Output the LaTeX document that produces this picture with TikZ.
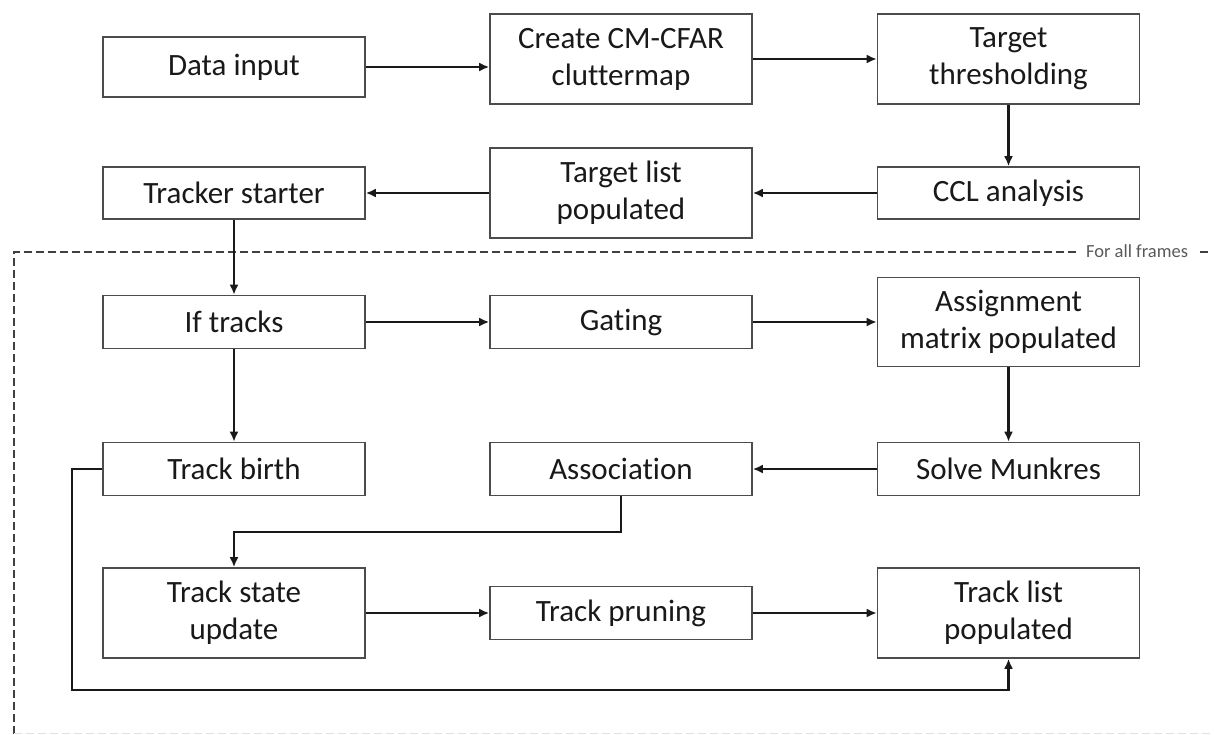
\documentclass[tikz,border=0pt]{standalone}
\usepackage{fontspec}
\setmainfont[Ligatures=NoCommon]{Carlito}
\usetikzlibrary{arrows.meta}
\begin{document}
\begin{tikzpicture}[x=1pt,y=-1pt,
  box/.style={draw=black!70,line width=1.6pt,fill=white,minimum width=262pt,align=center,
    font=\fontsize{31}{37}\selectfont,text=black!90,inner sep=2pt},
  one/.style={box,minimum height=53pt},
  two/.style={box,minimum height=90pt},
  conn/.style={line width=2.2pt,draw=black!90,-{Latex[length=10pt,width=9pt]}},
  frame/.style={line width=2.6pt,draw=black!75,dash pattern=on 8pt off 4pt}]
\useasboundingbox (0,0) rectangle (1214,734);
% frame
\draw[frame] (14,734) -- (14,252) -- (1076,252);
\draw[frame] (1200,252) -- (1211,252);
\node[text=black!65,font=\fontsize{18.5}{20}\selectfont] (lbl) at (1137,251) {For all frames};
\draw[line width=1pt,draw=black!12,dash pattern=on 8pt off 4pt] (14,733) -- (1214,733);
% nodes
\node[box,minimum height=60pt] (di) at (234,67) {Data input};
\node[two] (cm) at (621,59) {Create CM-CFAR\\cluttermap};
\node[two] (tt) at (1008.5,59) {Target\\thresholding};
\node[one,minimum height=52pt] (ts) at (234,193) {Tracker starter};
\node[two] (tl) at (621,193) {Target list\\populated};
\node[one,minimum height=52pt] (ccl) at (1008.5,193) {CCL analysis};
\node[one] (it) at (234,322) {If tracks};
\node[one] (ga) at (621,322) {Gating};
\node[two,minimum height=89pt] (am) at (1008.5,322) {Assignment\\matrix populated};
\node[one] (tb) at (234,469) {Track birth};
\node[one] (as) at (621,469) {Association};
\node[one] (sm) at (1008.5,469) {Solve Munkres};
\node[two] (tsu) at (234,613) {Track state\\update};
\node[one] (tp) at (621,613) {Track pruning};
\node[two] (tlp) at (1008.5,613) {Track list\\populated};
% connectors
\draw[conn] (di) -- (cm.west |- di);
\draw[conn] (cm) -- (tt);
\draw[conn] (tt) -- (ccl);
\draw[conn] (ccl) -- (tl);
\draw[conn] (tl) -- (ts);
\draw[conn] (ts) -- (it);
\draw[conn] (it) -- (ga);
\draw[conn] (ga) -- (am);
\draw[conn] (am) -- (sm);
\draw[conn] (sm) -- (as);
\draw[conn] (it) -- (tb);
\coordinate (a1) at (621,532);
\draw[conn] (as.south) -- (a1) -| (tsu.north);
\draw[conn] (tsu) -- (tp);
\draw[conn] (tp) -- (tlp);
\coordinate (b1) at (72,690);
\draw[conn] (tb.west) -- (72,469) -- (b1) -| (tlp.south);
\end{tikzpicture}
\end{document}
